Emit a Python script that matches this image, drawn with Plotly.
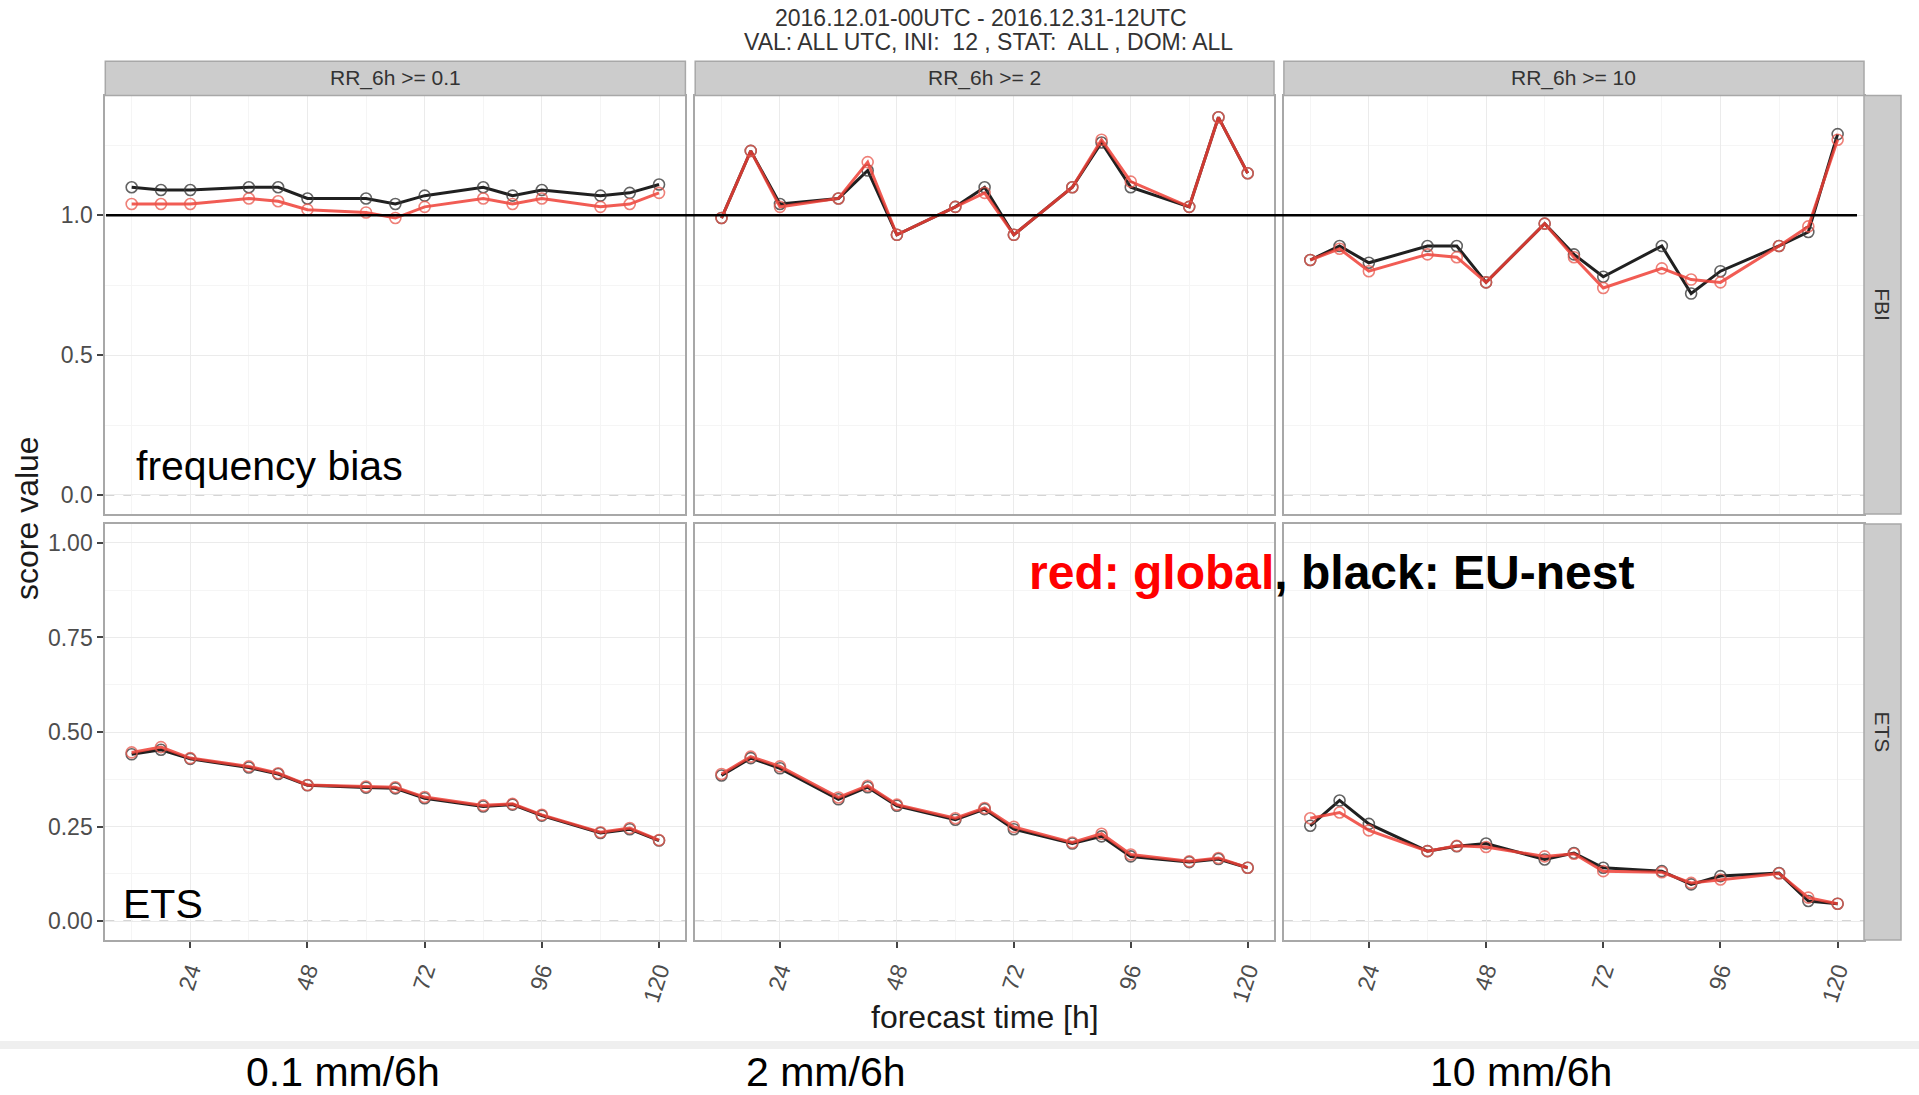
import plotly.graph_objects as go

W, H = 1919, 1095

lead_times = [12, 18, 24, 36, 42, 48, 60, 66, 72, 84, 90, 96, 108, 114, 120]
thresholds = ["RR_6h >= 0.1", "RR_6h >= 2", "RR_6h >= 10"]
scores = ["FBI", "ETS"]

fbi_eu_01 = [1.10, 1.09, 1.09, 1.10, 1.10, 1.06, 1.06, 1.04, 1.07, 1.10, 1.07, 1.09, 1.07, 1.08, 1.11]
fbi_gl_01 = [1.04, 1.04, 1.04, 1.06, 1.05, 1.02, 1.01, 0.99, 1.03, 1.06, 1.04, 1.06, 1.03, 1.04, 1.08]
fbi_eu_2 = [0.99, 1.23, 1.04, 1.06, 1.16, 0.93, 1.03, 1.10, 0.93, 1.10, 1.26, 1.10, 1.03, 1.35, 1.15]
fbi_gl_2 = [0.99, 1.23, 1.03, 1.06, 1.19, 0.93, 1.03, 1.08, 0.93, 1.10, 1.27, 1.12, 1.03, 1.35, 1.15]
fbi_eu_10 = [0.84, 0.89, 0.83, 0.89, 0.89, 0.76, 0.97, 0.86, 0.78, 0.89, 0.72, 0.80, 0.89, 0.94, 1.29]
fbi_gl_10 = [0.84, 0.88, 0.80, 0.86, 0.85, 0.76, 0.97, 0.85, 0.74, 0.81, 0.77, 0.76, 0.89, 0.96, 1.27]

ets_eu_01 = [0.441, 0.453, 0.429, 0.406, 0.389, 0.359, 0.353, 0.351, 0.325, 0.303, 0.308, 0.279, 0.233, 0.243, 0.213]
ets_gl_01 = [0.446, 0.460, 0.431, 0.409, 0.391, 0.360, 0.356, 0.354, 0.328, 0.306, 0.310, 0.281, 0.235, 0.246, 0.214]
ets_eu_2 = [0.385, 0.431, 0.404, 0.322, 0.354, 0.305, 0.268, 0.296, 0.243, 0.205, 0.224, 0.171, 0.156, 0.164, 0.141]
ets_gl_2 = [0.389, 0.435, 0.409, 0.327, 0.358, 0.308, 0.272, 0.299, 0.249, 0.208, 0.231, 0.176, 0.158, 0.167, 0.141]
ets_eu_10 = [0.252, 0.319, 0.257, 0.185, 0.198, 0.205, 0.163, 0.180, 0.141, 0.132, 0.097, 0.119, 0.127, 0.053, 0.046]
ets_gl_10 = [0.272, 0.287, 0.240, 0.185, 0.199, 0.196, 0.171, 0.178, 0.132, 0.129, 0.101, 0.110, 0.126, 0.062, 0.046]

x_ticks = [24, 48, 72, 96, 120]
fbi_ticks = [0.0, 0.5, 1.0]
fbi_tick_labels = ["0.0", "0.5", "1.0"]
ets_ticks = [0.0, 0.25, 0.5, 0.75, 1.0]
ets_tick_labels = ["0.00", "0.25", "0.50", "0.75", "1.00"]
threshold_labels = ["0.1 mm/6h", "2 mm/6h", "10 mm/6h"]

data = {
    (0, 0): (fbi_gl_01, fbi_eu_01), (0, 1): (fbi_gl_2, fbi_eu_2), (0, 2): (fbi_gl_10, fbi_eu_10),
    (1, 0): (ets_gl_01, ets_eu_01), (1, 1): (ets_gl_2, ets_eu_2), (1, 2): (ets_gl_10, ets_eu_10),
}

def px(x):
    return x / W

def py(y):
    return 1 - y / H

col_dom = [(105.3, 685.4), (695.2, 1274.0), (1283.9, 1864.0)]
row_dom = [(95.5, 514.0), (524.0, 940.0)]

FONT = "Liberation Sans, Arial, sans-serif"
RED = "rgba(238,64,54,0.85)"
RED_M = "rgba(232,85,75,0.75)"
BLK = "rgba(20,20,20,0.95)"
BLK_M = "rgba(60,60,60,0.8)"

fig = go.Figure()
layout = {}
shapes = []
annotations = []

for r in range(2):
    for c in range(3):
        idx = r * 3 + c + 1
        xa = "x" if idx == 1 else f"x{idx}"
        ya = "y" if idx == 1 else f"y{idx}"
        gl, eu = data[(r, c)]
        fig.add_trace(go.Scatter(x=lead_times, y=eu, xaxis=xa, yaxis=ya, mode="lines+markers",
                                 line=dict(color=BLK, width=3),
                                 marker=dict(symbol="circle-open", size=11, color=BLK_M, line=dict(width=1.6)),
                                 showlegend=False))
        fig.add_trace(go.Scatter(x=lead_times, y=gl, xaxis=xa, yaxis=ya, mode="lines+markers",
                                 line=dict(color=RED, width=3),
                                 marker=dict(symbol="circle-open", size=11, color=RED_M, line=dict(width=1.6)),
                                 showlegend=False))
        shapes.append(dict(type="line", xref=f"{xa} domain", yref=ya, x0=0, x1=1, y0=0, y1=0,
                           line=dict(color="#c8c8c8", width=1.5, dash="dash"), layer="below"))
        xkey = "xaxis" if idx == 1 else f"xaxis{idx}"
        ykey = "yaxis" if idx == 1 else f"yaxis{idx}"
        x0, x1 = col_dom[c]
        y0, y1 = row_dom[r]
        layout[xkey] = dict(
            domain=[px(x0), px(x1)], anchor=ya, range=[6.6, 125.4],
            tickvals=x_ticks, ticktext=[str(t) for t in x_ticks],
            showticklabels=(r == 1), tickangle=-72,
            ticks="outside" if r == 1 else "", ticklen=6, tickcolor="#444", tickwidth=1.5,
            tickfont=dict(family=FONT, size=23, color="#4d4d4d"),
            showgrid=True, gridcolor="#ebebeb", gridwidth=1.2,
            minor=dict(tickvals=[12, 36, 60, 84, 108], showgrid=True, gridcolor="#f5f5f5", gridwidth=1),
            showline=True, mirror=True, linecolor="#a8a8a8", linewidth=2, zeroline=False,
        )
        if r == 0:
            ydict = dict(range=[-0.068, 1.428], tickvals=fbi_ticks, ticktext=fbi_tick_labels,
                         minor=dict(tickvals=[0.25, 0.75, 1.25], showgrid=True, gridcolor="#f5f5f5", gridwidth=1))
        else:
            ydict = dict(range=[-0.05, 1.05], tickvals=ets_ticks, ticktext=ets_tick_labels,
                         minor=dict(tickvals=[0.125, 0.375, 0.625, 0.875], showgrid=True, gridcolor="#f5f5f5", gridwidth=1))
        ydict.update(
            domain=[py(y1), py(y0)], anchor=xa, showticklabels=(c == 0),
            ticks="outside" if c == 0 else "", ticklen=6, tickcolor="#444", tickwidth=1.5,
            tickfont=dict(family=FONT, size=23, color="#4d4d4d"),
            showgrid=True, gridcolor="#ebebeb", gridwidth=1.2,
            showline=True, mirror=True, linecolor="#a8a8a8", linewidth=2, zeroline=False,
        )
        layout[ykey] = ydict

for c in range(3):
    x0, x1 = col_dom[c]
    shapes.append(dict(type="rect", xref="paper", yref="paper", x0=px(x0), x1=px(x1), y0=py(95.5), y1=py(61.2),
                       fillcolor="#cccccc", line=dict(color="#a8a8a8", width=1.5)))
    annotations.append(dict(text=thresholds[c], xref="paper", yref="paper", x=px((x0 + x1) / 2), y=py(78.3),
                            showarrow=False, font=dict(family=FONT, size=21, color="#333333"),
                            xanchor="center", yanchor="middle"))
for r in range(2):
    y0, y1 = row_dom[r]
    shapes.append(dict(type="rect", xref="paper", yref="paper", x0=px(1864), x1=px(1901), y0=py(y1), y1=py(y0),
                       fillcolor="#cccccc", line=dict(color="#a8a8a8", width=1.5)))
    annotations.append(dict(text=scores[r], xref="paper", yref="paper", x=px(1882.5), y=py((y0 + y1) / 2),
                            showarrow=False, textangle=90, font=dict(family=FONT, size=21, color="#333333"),
                            xanchor="center", yanchor="middle"))

shapes.append(dict(type="line", xref="paper", yref="y", x0=px(106), x1=px(1857), y0=1, y1=1,
                   line=dict(color="black", width=2.5)))

shapes.append(dict(type="rect", xref="paper", yref="paper", x0=0, x1=1, y0=py(1049), y1=py(1041),
                   fillcolor="#efefef", line=dict(width=0), layer="below"))

annotations.append(dict(text="2016.12.01-00UTC - 2016.12.31-12UTC", xref="paper", yref="paper",
                        x=px(981), y=py(18), showarrow=False, xanchor="center", yanchor="middle",
                        font=dict(family=FONT, size=23, color="#333333")))
annotations.append(dict(text="VAL: ALL UTC, INI:  12 , STAT:  ALL , DOM: ALL", xref="paper", yref="paper",
                        x=px(988), y=py(42), showarrow=False, xanchor="center", yanchor="middle",
                        font=dict(family=FONT, size=23, color="#333333")))
annotations.append(dict(text="score value", xref="paper", yref="paper", x=px(27), y=py(518),
                        showarrow=False, textangle=-90, xanchor="center", yanchor="middle",
                        font=dict(family=FONT, size=32, color="#1a1a1a")))
annotations.append(dict(text="forecast time [h]", xref="paper", yref="paper", x=px(985), y=py(1017),
                        showarrow=False, xanchor="center", yanchor="middle",
                        font=dict(family=FONT, size=32, color="#1a1a1a")))

annotations.append(dict(text="frequency bias", xref="paper", yref="paper", x=px(134), y=py(466),
                        showarrow=False, xanchor="left", yanchor="middle",
                        font=dict(family=FONT, size=41, color="black")))
annotations.append(dict(text="ETS", xref="paper", yref="paper", x=px(121), y=py(904),
                        showarrow=False, xanchor="left", yanchor="middle",
                        font=dict(family=FONT, size=41, color="black")))
annotations.append(dict(text="<b><span style='color:#ff0000'>red: global</span>, black: EU-nest</b>",
                        xref="paper", yref="paper", x=px(1027), y=py(572),
                        showarrow=False, xanchor="left", yanchor="middle",
                        font=dict(family=FONT, size=48, color="black")))
for lbl, xc in zip(threshold_labels, [343, 826, 1521]):
    annotations.append(dict(text=lbl, xref="paper", yref="paper", x=px(xc), y=py(1072),
                            showarrow=False, xanchor="center", yanchor="middle",
                            font=dict(family=FONT, size=41, color="black")))

fig.update_layout(
    width=W, height=H, margin=dict(l=0, r=0, t=0, b=0),
    paper_bgcolor="white", plot_bgcolor="white",
    shapes=shapes, annotations=annotations, showlegend=False,
    **layout,
)

fig.write_html("out.html", config={"displayModeBar": False},
               post_script="document.body.style.margin='0';document.body.style.overflow='hidden';")
